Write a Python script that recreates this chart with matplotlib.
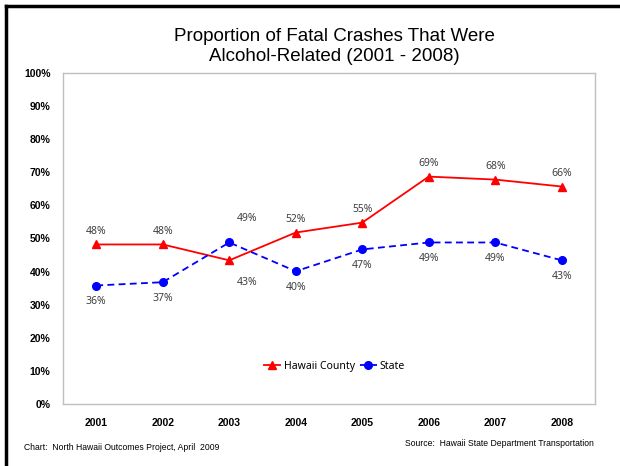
import numpy as np
import matplotlib.pyplot as plt
from matplotlib.lines import Line2D

years = ['2001', '2002', '2003', '2004', '2005', '2006', '2007', '2008']
county = [48.2, 48.2, 43.4, 51.8, 54.8, 68.7, 67.8, 65.7]
state = [35.8, 36.8, 48.8, 40.1, 46.7, 48.8, 48.8, 43.4]
county_lbl = ['48%', '48%', '43%', '52%', '55%', '69%', '68%', '66%']
state_lbl = ['36%', '37%', '49%', '40%', '47%', '49%', '49%', '43%']

fig = plt.figure(figsize=(6.2, 4.66), dpi=100)
ax = fig.add_axes([63 / 620, 1 - 404 / 466, (595 - 63) / 620, (404 - 73) / 466])

x = np.arange(len(years))
ax.plot(x, county, color='#FF0000', lw=1.3, marker='^', ms=5.5, label='Hawaii County')
ax.plot(x, state, color='#0000FF', lw=1.3, ls=(0, (3.8, 2.4)), marker='o', ms=5.5, label='State')

lab_font = dict(family=['Noto Sans', 'DejaVu Sans'], fontsize=7.5, color='#404040', ha='center')
for i in range(len(years)):
    if i == 2:
        # 2003: lines cross, labels pushed aside
        ax.annotate(county_lbl[i], (x[i], county[i]), xytext=(13, -16), textcoords='offset points',
                    va='center', **lab_font)
        ax.annotate(state_lbl[i], (x[i], state[i]), xytext=(13, 17), textcoords='offset points',
                    va='center', **lab_font)
    else:
        ax.annotate(county_lbl[i], (x[i], county[i]), xytext=(0, 9.5), textcoords='offset points',
                    va='center', **lab_font)
        ax.annotate(state_lbl[i], (x[i], state[i]), xytext=(0, -11.5), textcoords='offset points',
                    va='center', **lab_font)

ax.set_xlim(-0.5, 7.5)
ax.set_ylim(0, 100)
ax.set_yticks(np.arange(0, 101, 10))
ax.set_yticklabels(['%d%%' % v for v in range(0, 101, 10)])
ax.set_xticks(x)
ax.set_xticklabels(years)
ax.tick_params(length=0)
ax.tick_params(axis='y', pad=9)
ax.tick_params(axis='x', pad=10)
for t in ax.get_xticklabels() + ax.get_yticklabels():
    t.set_fontweight('bold')
    t.set_fontsize(7.5)
    t.set_family(['Liberation Sans', 'DejaVu Sans'])
for s in ax.spines.values():
    s.set_color('#BFBFBF')
    s.set_linewidth(1)

leg = ax.legend(loc='center', bbox_to_anchor=(0.51, 0.113), ncol=2, frameon=False,
                prop={'family': ['Noto Sans', 'DejaVu Sans'], 'size': 7.5},
                handlelength=1.6, handletextpad=0.3, columnspacing=0.5)

fig.text(0.54, 0.9, 'Proportion of Fatal Crashes That Were\nAlcohol-Related (2001 - 2008)',
         ha='center', va='center', fontsize=13.5, family=['Liberation Sans', 'DejaVu Sans'],
         linespacing=1.28)
fig.text(24 / 620, 1 - 447 / 466, 'Chart:  North Hawaii Outcomes Project, April  2009',
         ha='left', va='center', fontsize=6.2, family=['Liberation Sans', 'DejaVu Sans'])
fig.text(594 / 620, 1 - 443 / 466, 'Source:  Hawaii State Department Transportation',
         ha='right', va='center', fontsize=6.2, family=['Liberation Sans', 'DejaVu Sans'])

# dark frame along top and left edges
fig.add_artist(Line2D([6 / 620, 1], [1 - 6 / 466, 1 - 6 / 466], color='black', lw=2.5,
                      transform=fig.transFigure))
fig.add_artist(Line2D([6 / 620, 6 / 620], [0, 1 - 6 / 466], color='black', lw=2.5,
                      transform=fig.transFigure))

fig.savefig('out.png', dpi=100)
